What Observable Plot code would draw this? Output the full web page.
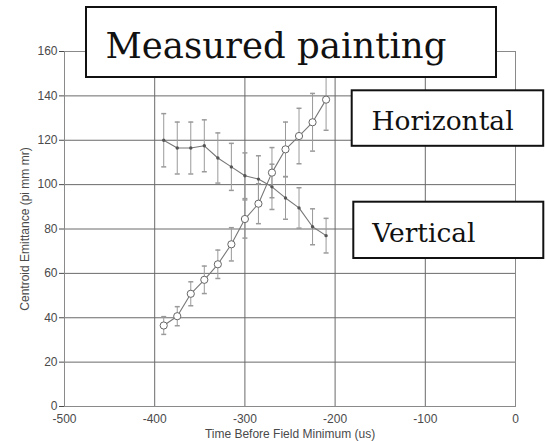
<!DOCTYPE html>
<html>
<head>
<meta charset="utf-8">
<script src="https://cdn.jsdelivr.net/npm/d3@7"></script>
<script src="https://cdn.jsdelivr.net/npm/@observablehq/plot@0.6"></script>
<style>
  html, body { margin: 0; padding: 0; background: #fff; }
  #wrap { position: relative; width: 545px; height: 441px; overflow: hidden; }
  #wrap > svg { display: block; }
  #notes { position: absolute; left: 0; top: 0; }
</style>
</head>
<body>
<div id="wrap"></div>
<script>
// Time of each measurement (us before field minimum)
const times = [-390, -375, -360, -345, -330, -315, -300, -285, -270, -255, -240, -225, -210];
// Horizontal centroid emittance (open circles) and its error
const horizontal    = [36.5, 40.7, 50.8, 57.1, 64.1, 73.1, 84.5, 91.4, 105.4, 115.9, 121.9, 128.1, 138.3];
const horizontalErr = [4.0, 4.3, 5.4, 6.2, 6.4, 7.5, 8.6, 9.0, 11.3, 12.3, 12.5, 13.0, 13.8];
// Vertical centroid emittance (small dots) and its error
const vertical    = [120, 116.5, 116.5, 117.5, 112, 108, 104, 102.5, 99, 94, 89.5, 81, 77];
const verticalErr = [12.0, 11.7, 11.7, 11.7, 11.3, 10.6, 10.3, 10.5, 10.2, 9.6, 9.1, 8.1, 7.8];

const xTicks = [-500, -400, -300, -200, -100, 0];
const yTicks = [0, 20, 40, 60, 80, 100, 120, 140, 160];

const titleText = "Measured painting";
const horizontalLabel = "Horizontal";
const verticalLabel = "Vertical";

const rows = times.map((t, i) => ({
  t,
  h: horizontal[i], hLo: horizontal[i] - horizontalErr[i], hHi: horizontal[i] + horizontalErr[i],
  v: vertical[i],   vLo: vertical[i] - verticalErr[i],     vHi: vertical[i] + verticalErr[i]
}));

// short horizontal stroke used as the error-bar cap
const cap = {
  draw(ctx, size) {
    const r = Math.sqrt(size / Math.PI);
    ctx.moveTo(-r, 0);
    ctx.lineTo(r, 0);
  }
};

const barColor = "#9a9a9a";
const lineColor = "#777";

const chart = Plot.plot({
  width: 545,
  height: 441,
  marginLeft: 64,
  marginRight: 30,
  marginTop: 51,
  marginBottom: 35,
  style: { fontFamily: "'Liberation Sans', Arial, sans-serif", fontSize: "12px", color: "#4a4a4a", background: "#fff" },
  x: {
    domain: [-500, 0],
    ticks: xTicks,
    tickSize: 0,
    tickPadding: 8,
    tickFormat: d => String(d),
    label: "Time Before Field Minimum (us)",
    labelArrow: "none",
    labelAnchor: "center",
    labelOffset: 31
  },
  y: {
    domain: [0, 160],
    ticks: yTicks,
    tickSize: 5,
    tickPadding: 2,
    tickFormat: d => String(d),
    label: "Centroid Emittance (pi mm mr)",
    labelArrow: "none",
    labelAnchor: "center",
    labelOffset: 44
  },
  marks: [
    Plot.ruleX(xTicks, { stroke: "#6a6a6a" }),
    Plot.ruleY(yTicks, { stroke: "#6a6a6a" }),
    Plot.frame({ stroke: "#8a8a8a" }),
    // error bars
    Plot.ruleX(rows, { x: "t", y1: "vLo", y2: "vHi", stroke: barColor }),
    Plot.dot(rows, { x: "t", y: "vLo", symbol: cap, r: 2.5, stroke: barColor }),
    Plot.dot(rows, { x: "t", y: "vHi", symbol: cap, r: 2.5, stroke: barColor }),
    Plot.ruleX(rows, { x: "t", y1: "hLo", y2: "hHi", stroke: barColor }),
    Plot.dot(rows, { x: "t", y: "hLo", symbol: cap, r: 2.5, stroke: barColor }),
    Plot.dot(rows, { x: "t", y: "hHi", symbol: cap, r: 2.5, stroke: barColor }),
    // series lines
    Plot.line(rows, { x: "t", y: "v", stroke: lineColor, strokeWidth: 1.1 }),
    Plot.line(rows, { x: "t", y: "h", stroke: lineColor, strokeWidth: 1.1 }),
    // markers
    Plot.dot(rows, { x: "t", y: "v", r: 1.7, fill: "#555", stroke: "none" }),
    Plot.dot(rows, { x: "t", y: "h", r: 3.6, stroke: "#666", strokeWidth: 1, fill: "#fff" })
  ]
});

const wrap = document.getElementById("wrap");
wrap.appendChild(chart);

// annotation boxes laid over the chart
const ns = "http://www.w3.org/2000/svg";
const notes = document.createElementNS(ns, "svg");
notes.setAttribute("id", "notes");
notes.setAttribute("width", 545);
notes.setAttribute("height", 441);
const boxes = [
  { x: 86, y: 7, w: 410, h: 70, text: titleText, tx: 105.5, ty: 57.5, size: 35.5 },
  { x: 351.7, y: 90.3, w: 191.5, h: 55.5, text: horizontalLabel, tx: 371.5, ty: 130, size: 26.5 },
  { x: 353.3, y: 201.7, w: 190, h: 56.3, text: verticalLabel, tx: 372.3, ty: 241.5, size: 26.5 }
];
for (const b of boxes) {
  const r = document.createElementNS(ns, "rect");
  r.setAttribute("x", b.x); r.setAttribute("y", b.y);
  r.setAttribute("width", b.w); r.setAttribute("height", b.h);
  r.setAttribute("fill", "#fff"); r.setAttribute("stroke", "#111"); r.setAttribute("stroke-width", 2);
  notes.appendChild(r);
  const t = document.createElementNS(ns, "text");
  t.setAttribute("x", b.tx); t.setAttribute("y", b.ty);
  t.setAttribute("font-family", "'DejaVu Serif', serif");
  t.setAttribute("font-size", b.size);
  t.setAttribute("fill", "#111");
  t.textContent = b.text;
  notes.appendChild(t);
}
wrap.appendChild(notes);
</script>
</body>
</html>
